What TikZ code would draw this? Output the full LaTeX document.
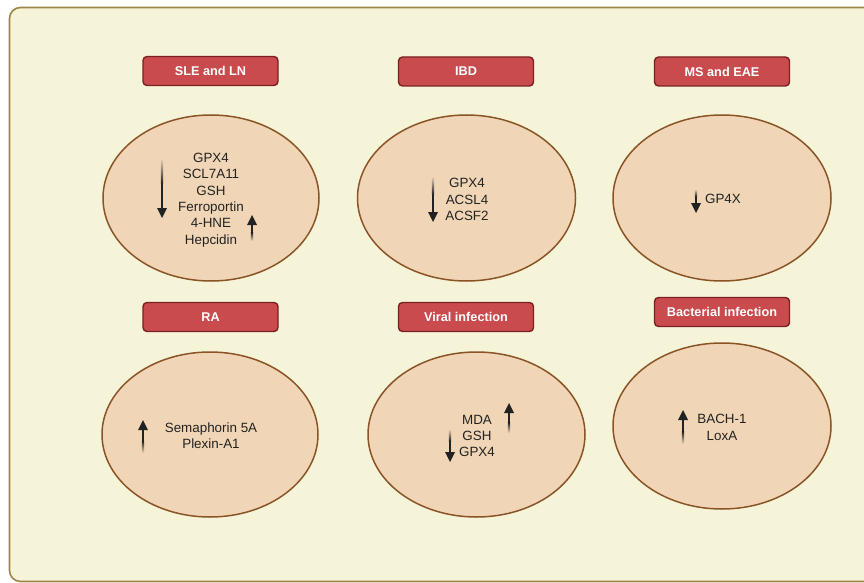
\documentclass[tikz,border=0pt]{standalone}
\usepackage{fontspec}
\setmainfont{Liberation Sans}
\definecolor{pagebg}{HTML}{F5F4D8}
\definecolor{frameol}{HTML}{9C8748}
\definecolor{ellfill}{HTML}{F0D6B6}
\definecolor{ellline}{HTML}{8A5426}
\definecolor{labfill}{HTML}{C94B4E}
\definecolor{labline}{HTML}{7A1F22}
\definecolor{arrcol}{HTML}{222222}
\definecolor{txtcol}{HTML}{222222}
\tikzset{
  cell/.style={ellipse, draw=ellline, fill=ellfill, line width=1.5pt, inner sep=0pt},
  tag/.style={rounded corners=4pt, draw=labline, fill=labfill, line width=1.4pt,
    minimum width=135pt, minimum height=29pt, inner sep=0pt,
    text=white, font=\fontsize{12.7}{14}\selectfont\bfseries},
  genes/.style={align=center, text=txtcol, inner sep=0pt,
    font=\fontsize{13.4}{16.4}\selectfont},
}
% shaft: faded over the tail half, solid near the head
\newcommand\arrdn[3]{%
  \shade[top color=ellfill, bottom color=arrcol] (#1-1.2,#2) rectangle (#1+1.2,{(#2+#3-9)/2});
  \fill[arrcol] (#1-1.2,{(#2+#3-9)/2}) rectangle (#1+1.2,#3-8);
  \fill[arrcol] (#1-5,#3-10) -- (#1+5,#3-10) -- (#1,#3) -- cycle;}
\newcommand\arrup[3]{%
  \fill[arrcol] (#1-1.2,#3+8) rectangle (#1+1.2,{(#2+#3+9)/2});
  \shade[top color=arrcol, bottom color=ellfill] (#1-1.2,{(#2+#3+9)/2}) rectangle (#1+1.2,#2);
  \fill[arrcol] (#1-5,#3+10) -- (#1+5,#3+10) -- (#1,#3) -- cycle;}
\usetikzlibrary{shapes.geometric}
\begin{document}
\begin{tikzpicture}[x=1pt,y=-1pt]
\useasboundingbox (0,0) rectangle (864,583);
\fill[white] (0,0) rectangle (864,583);
\begin{scope}
\clip (0,0) rectangle (864,583);
\draw[frameol, fill=pagebg, line width=1.6pt, rounded corners=11pt] (9.5,7.5) rectangle (900,581.5);
\end{scope}

% ellipses
\node[cell, minimum width=216pt, minimum height=166pt] (e1) at (211,198) {};
\node[cell, minimum width=218pt, minimum height=166pt] (e2) at (466.5,198) {};
\node[cell, minimum width=218pt, minimum height=166pt] (e3) at (722,198) {};
\node[cell, minimum width=216pt, minimum height=165pt] (e4) at (210,434.5) {};
\node[cell, minimum width=217pt, minimum height=165pt] (e5) at (476.5,434.5) {};
\node[cell, minimum width=218pt, minimum height=166pt] (e6) at (722,426) {};

% labels
\node[tag] (t1) at (210.5,71) {SLE and LN};
\node[tag] (t2) at (466,71.5) {IBD};
\node[tag] (t3) at (722,71.5) {MS and EAE};
\node[tag] (t4) at (210.5,317) {RA};
\node[tag] (t5) at (466,317) {Viral infection};
\node[tag] (t6) at (722,312) {Bacterial infection};

% gene lists
\node[genes] (g1) at (211,200) {GPX4\\SCL7A11\\GSH\\Ferroportin\\4-HNE\\Hepcidin};
\node[genes] (g2) at (467,199.5) {GPX4\\ACSL4\\ACSF2};
\node[genes] (g3) at (723,199) {GP4X};
\node[genes] (g4) at (211,436) {Semaphorin 5A\\Plexin-A1};
\node[genes] (g5) at (477,436) {MDA\\GSH\\GPX4};
\node[genes] (g6) at (722,427.5) {BACH-1\\LoxA};

% arrows
\arrdn{162}{158}{218}
\arrup{252}{241}{215}
\arrdn{433}{176}{222}
\arrdn{696}{189}{213}
\arrup{143}{453}{420}
\arrup{509}{433}{403}
\arrdn{450}{429}{462}
\arrup{683}{444}{410}
\end{tikzpicture}
\end{document}
